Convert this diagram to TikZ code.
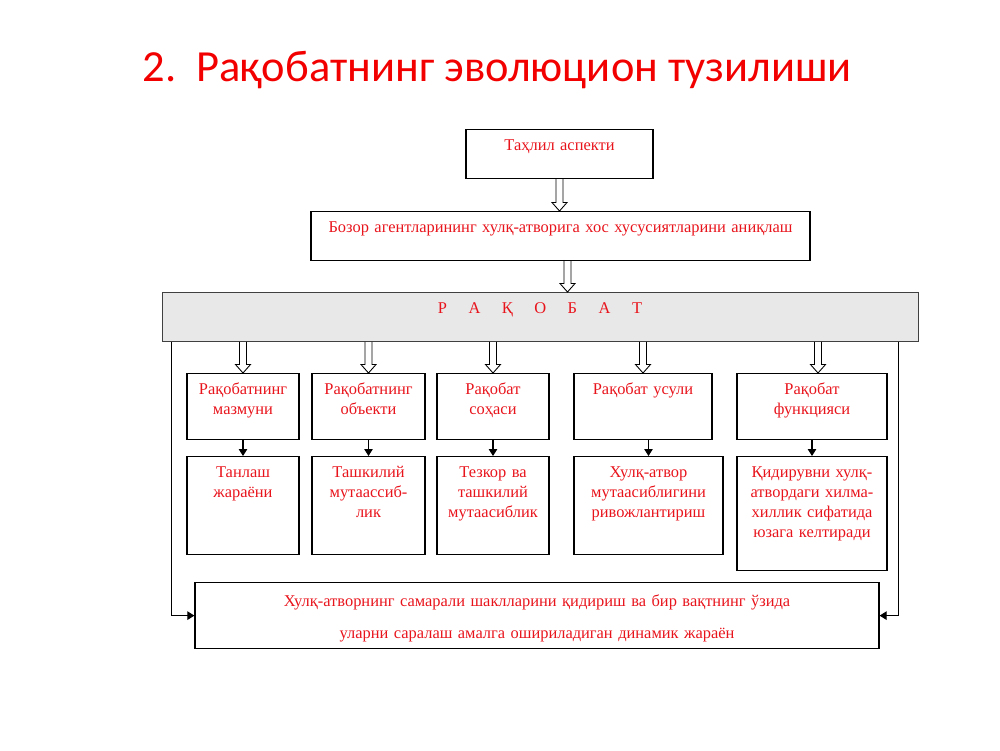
\documentclass[tikz,border=0pt]{standalone}
\usepackage{fontspec}
\setmainfont{Liberation Serif}
\newfontfamily\titlefont{Carlito}
\usepackage{tikz}
\usetikzlibrary{positioning,arrows.meta,calc}
\usepackage{xcolor}
\definecolor{boxred}{RGB}{232,20,28}
\definecolor{titlered}{RGB}{242,0,0}
\definecolor{bargray}{RGB}{232,232,232}
\newcommand{\lgap}{\hspace{0.43cm}}

\begin{document}
\begin{tikzpicture}[>={Triangle[length=1.4mm,width=1.7mm]},
  box/.style 2 args={draw,line width=0.7pt,anchor=north,inner xsep=0pt,inner ysep=0pt,text width=#1,align=center,text height=0.42cm,text depth=#2,text=boxred,font=\fontsize{9.35}{11.4}\selectfont},
  hollow/.style={draw,line width=0.5pt,to path={let \p1=(\tikztostart),\p2=(\tikztotarget) in (\x1-0.07cm,\y1) -- (\x1-0.07cm,\y2+0.17cm) -- (\x1-0.15cm,\y2+0.17cm) -- (\x1,\y2) -- (\x1+0.15cm,\y2+0.17cm) -- (\x1+0.07cm,\y2+0.17cm) -- (\x1+0.07cm,\y1)}},
  link/.style={->,line width=0.6pt}]
\useasboundingbox (0,0) rectangle (20,-15);
\node[text=titlered,font=\titlefont\fontsize{25.3}{30}\selectfont] (title) at (9.94,-1.4) {2.\ \ Рақобатнинг эволюцион тузилиши};
\node[box={3.74cm}{0.56cm}] (tahlil) at (11.19,-2.58) {Таҳлил аспекти};
\node[box={9.98cm}{0.56cm}] (bozor) at (11.21,-4.22) {Бозор агентларининг хулқ-атворига хос хусусиятларини аниқлаш};
\node[box={15.12cm}{0.56cm},fill=bargray,draw=black!75,line width=0.5pt] (rakobat) at (10.8,-5.84) {Р\lgap А\lgap Қ\lgap О\lgap Б\lgap А\lgap Т};
\node[box={2.24cm}{0.90cm}] (mazmun) at (4.86,-7.46) {Рақобатнинг\\мазмуни};
\node[box={2.26cm}{0.90cm}] (obyekt) at (7.37,-7.46) {Рақобатнинг\\объекти};
\node[box={2.24cm}{0.90cm}] (soha) at (9.86,-7.46) {Рақобат\\соҳаси};
\node[box={2.76cm}{0.90cm}] (usul) at (12.86,-7.46) {Рақобат усули};
\node[box={3.00cm}{0.90cm}] (funksiya) at (16.24,-7.46) {Рақобат\\функцияси};
\node[box={2.24cm}{1.54cm}] (tanlash) at (4.86,-9.12) {Танлаш\\жараёни};
\node[box={2.26cm}{1.54cm}] (tashkil) at (7.37,-9.12) {Ташкилий\\мутаассиб-\\лик};
\node[box={2.24cm}{1.54cm}] (tezkor) at (9.86,-9.12) {Тезкор ва\\ташкилий\\мутаасиблик};
\node[box={2.98cm}{1.54cm}] (xulq) at (12.97,-9.12) {Хулқ-атвор\\мутаасиблигини\\ривожлантириш};
\node[box={3.00cm}{1.86cm}] (qidiruv) at (16.24,-9.12) {Қидирувни хулқ-\\атвордаги хилма-\\хиллик сифатида\\юзага келтиради};
\node[box={13.68cm}{0.84cm},text height=0.48cm] (final) at (10.74,-11.64) {Хулқ-атворнинг самарали шаклларини қидириш ва бир вақтнинг ўзида\\[6.8pt]уларни саралаш амалга ошириладиган динамик жараён};
\draw[hollow] (tahlil.south) to (bozor.north);
\draw[hollow] ([xshift=0.14cm]bozor.south) to (rakobat.north);
\foreach \b in {mazmun,obyekt,soha,usul}
  \draw[hollow] (rakobat.south -| \b.north) to (\b.north);
\draw[hollow] ([xshift=0.12cm]rakobat.south -| funksiya.north) to (funksiya.north);
\draw[link] (mazmun.south) -- (tanlash.north);
\draw[link] (obyekt.south) -- (tashkil.north);
\draw[link] (soha.south) -- (tezkor.north);
\draw[link] (usul.south -| xulq.north) -- (xulq.north);
\draw[link] (funksiya.south) -- (qidiruv.north);
\draw[link] ([xshift=0.2cm]rakobat.south west) |- (final.west);
\draw[link] ([xshift=-0.4cm]rakobat.south east) |- (final.east);
\end{tikzpicture}
\end{document}
